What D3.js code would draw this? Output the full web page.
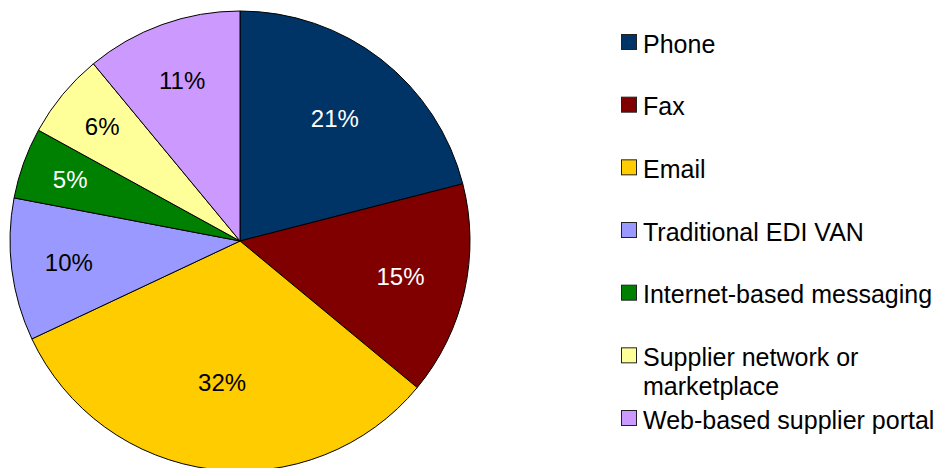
<!DOCTYPE html>
<html>
<head>
<meta charset="utf-8">
<script src="https://cdn.jsdelivr.net/npm/d3@7"></script>
<style>
  html, body { margin: 0; padding: 0; background: #fff; }
  svg { display: block; }
  text { font-family: "Liberation Sans", Arial, sans-serif; }
</style>
</head>
<body>
<svg id="chart" width="936" height="468"></svg>
<script>
// Share of supplier communication channels (%)
const categories = [
  "Phone",
  "Fax",
  "Email",
  "Traditional EDI VAN",
  "Internet-based messaging",
  "Supplier network or marketplace",
  "Web-based supplier portal"
];
const values = [21, 15, 32, 10, 5, 6, 11];
const colors = ["#003366", "#800000", "#FFCC00", "#9999FF", "#008000", "#FFFF99", "#CC99FF"];
const labelColors = ["#ffffff", "#ffffff", "#000000", "#000000", "#ffffff", "#000000", "#000000"];
// legend text, wrapped the way it is shown
const legendLines = [
  ["Phone"],
  ["Fax"],
  ["Email"],
  ["Traditional EDI VAN"],
  ["Internet-based messaging"],
  ["Supplier network or", "marketplace"],
  ["Web-based supplier portal"]
];

const data = categories.map((c, i) => ({ name: c, value: values[i], color: colors[i], label: labelColors[i] }));

const svg = d3.select("#chart");
const cx = 240, cy = 241, R = 230;

const pie = d3.pie().value(d => d.value).sort(null);
const arcs = pie(data);
const arc = d3.arc().innerRadius(0).outerRadius(R);

const g = svg.append("g").attr("transform", `translate(${cx},${cy})`);

g.selectAll("path.slice")
  .data(arcs)
  .join("path")
  .attr("class", "slice")
  .attr("d", arc)
  .attr("fill", d => d.data.color)
  .attr("stroke", "#000")
  .attr("stroke-width", 1)
  .attr("stroke-linejoin", "round");

// narrower slices get their label pushed further out
const labelRadius = v => R * Math.max(0.62, Math.min(0.82, 0.82 - 0.007 * v));

g.selectAll("text.pct")
  .data(arcs)
  .join("text")
  .attr("class", "pct")
  .attr("transform", d => {
    const r = labelRadius(d.data.value);
    const c = d3.arc().innerRadius(r).outerRadius(r).centroid(d);
    return `translate(${c[0]},${c[1]})`;
  })
  .attr("text-anchor", "middle")
  .attr("dominant-baseline", "central")
  .attr("font-size", 24)
  .attr("fill", d => d.data.label)
  .text(d => `${d.data.value}%`);

// legend
const legend = svg.append("g").attr("transform", "translate(621,0)");
const rowY = d3.scaleLinear().domain([0, categories.length - 1]).range([44, 420]);

const items = legend.selectAll("g.item")
  .data(data)
  .join("g")
  .attr("class", "item")
  .attr("transform", (d, i) => `translate(0,${rowY(i)})`);

items.append("rect")
  .attr("x", 0.5)
  .attr("y", -9.5)
  .attr("width", 15)
  .attr("height", 15)
  .attr("fill", d => d.color)
  .attr("stroke", "#222")
  .attr("stroke-width", 1);

items.append("text")
  .attr("x", 22)
  .attr("y", 0)
  .attr("font-size", 25)
  .attr("fill", "#000")
  .selectAll("tspan")
  .data((d, i) => legendLines[i])
  .join("tspan")
  .attr("x", 22)
  .attr("dy", (t, j) => j === 0 ? "0.35em" : 29)
  .text(t => t);
</script>
</body>
</html>
